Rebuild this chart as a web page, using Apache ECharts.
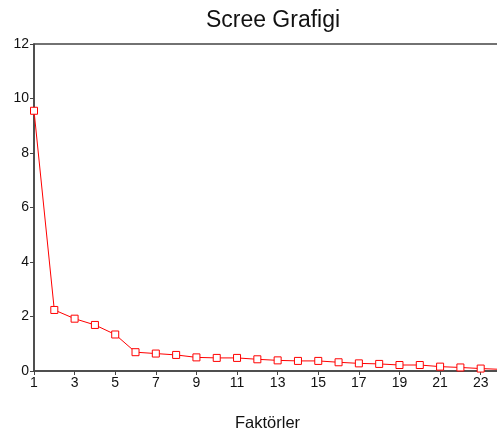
<!DOCTYPE html>
<html>
<head>
<meta charset="utf-8">
<script src="https://cdn.jsdelivr.net/npm/echarts@6/dist/echarts.min.js"></script>
<style>
html,body{margin:0;padding:0;background:#fff;}
#c{width:497px;height:438px;}
</style>
</head>
<body>
<div id="c"></div>
<script>
const titleText = "Scree Grafigi";
const xName = "Faktörler";
const factors = ["1","2","3","4","5","6","7","8","9","10","11","12","13","14","15","16","17","18","19","20","21","22","23","24"];
const eigenvalues = [9.55,2.24,1.92,1.69,1.34,0.69,0.64,0.59,0.50,0.48,0.48,0.43,0.39,0.37,0.37,0.32,0.28,0.26,0.22,0.22,0.16,0.13,0.09,0.06];

const chart = echarts.init(document.getElementById('c'), null, {renderer:'canvas'});
const font = "Liberation Sans, Arial, sans-serif";
chart.setOption({
  animation:false,
  backgroundColor:'#fff',
  title:{
    text:titleText, left:268, textAlign:'center', top:4,
    textStyle:{fontFamily:font, fontSize:23, fontWeight:'normal', color:'#111'}
  },
  grid:{left:34, width:467, top:44, bottom:67, outerBoundsMode:'none', containLabel:false,
        show:true, borderColor:'#444', borderWidth:1.5, backgroundColor:'transparent'},
  xAxis:{
    type:'category', data:factors, boundaryGap:false,
    name:xName, nameLocation:'middle', nameGap:44,
    nameTextStyle:{fontFamily:font, fontSize:16.5, color:'#111'},
    axisLine:{lineStyle:{color:'#444', width:1.5}},
    axisTick:{show:true, interval:1, length:4, lineStyle:{color:'#444'}},
    axisLabel:{interval:1, margin:5, fontFamily:font, fontSize:14, color:'#111'},
    splitLine:{show:false}
  },
  yAxis:{
    type:'value', min:0, max:12, interval:2,
    axisLine:{show:true, lineStyle:{color:'#444', width:1.5}},
    axisTick:{show:true, length:4, lineStyle:{color:'#444'}},
    axisLabel:{margin:5, fontFamily:font, fontSize:14, color:'#111'},
    splitLine:{show:false}
  },
  series:[{
    type:'line', data:eigenvalues,
    symbol:'rect', symbolSize:7, showAllSymbol:true,
    itemStyle:{color:'#fff', borderColor:'#ff0000', borderWidth:1},
    lineStyle:{color:'#ff0000', width:1},
    clip:false
  }]
});
</script>
</body>
</html>
